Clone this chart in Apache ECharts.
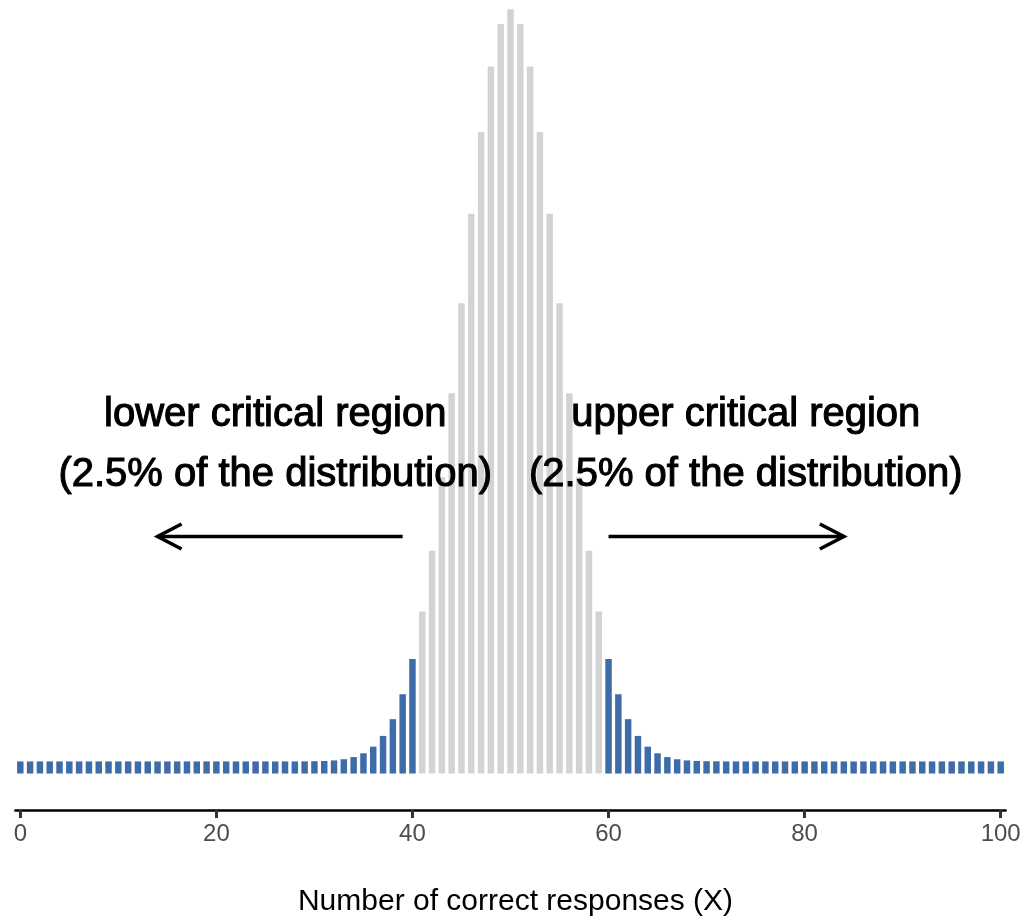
<!DOCTYPE html>
<html>
<head>
<meta charset="utf-8">
<script src="https://cdn.jsdelivr.net/npm/echarts@6/dist/echarts.min.js"></script>
<style>html,body{margin:0;padding:0;background:#fff}#c{width:1024px;height:922px}</style>
</head>
<body>
<div id="c"></div>
<script>
// Number of correct responses X = 0..100
const xValues = [
  0,1,2,3,4,5,6,7,8,9,10,11,12,13,14,15,16,17,18,19,20,
  21,22,23,24,25,26,27,28,29,30,31,32,33,34,35,36,37,38,39,40,
  41,42,43,44,45,46,47,48,49,50,51,52,53,54,55,56,57,58,59,60,
  61,62,63,64,65,66,67,68,69,70,71,72,73,74,75,76,77,78,79,80,
  81,82,83,84,85,86,87,88,89,90,91,92,93,94,95,96,97,98,99,100
];
// Probability of each X
const probabilities = [
  0,0,0,0,0,0,0,0,0,0,
  0,0,0,0,0,0,0,0,0,0,
  0,0,0,0,0,0,0,0,0,0.00001,
  0.00002,0.00005,0.00011,0.00023,0.00046,0.00086,0.00156,0.00270,0.00447,0.00711,
  0.01084,0.01587,0.02229,0.03007,0.03895,0.04847,0.05796,0.06659,0.07353,0.07803,
  0.07959,
  0.07803,0.07353,0.06659,0.05796,0.04847,0.03895,0.03007,0.02229,0.01587,0.01084,
  0.00711,0.00447,0.00270,0.00156,0.00086,0.00046,0.00023,0.00011,0.00005,0.00002,
  0.00001,0,0,0,0,0,0,0,0,0,
  0,0,0,0,0,0,0,0,0,0,
  0,0,0,0,0,0,0,0,0,0
];
const lowerCritical = 40;
const upperCritical = 60;
const xTicks = [0, 20, 40, 60, 80, 100];
const annotationX = [26, 74];
const annotationY = [0.0335, 0.0335];
const annotationText = [
  'lower critical region\n(2.5% of the distribution)',
  'upper critical region\n(2.5% of the distribution)'
];
const arrowFrom = [39, 60];
const arrowTo = [14, 84];
const arrowY = [0.0238, 0.0238];
const xAxisTitle = 'Number of correct responses (X)';

// styles
const BLUE = '#3D6CA9';
const GREY = '#D3D3D3';
const FONT = '"Liberation Sans", Arial, Helvetica, sans-serif';
const HALF_W = 0.33;
const BAR_BASE = -0.00128;

const barData = xValues.map((x, i) => [x, probabilities[i]]);
const textData = annotationX.map((x, i) => [x, annotationY[i], i]);
const arrowData = arrowFrom.map((x, i) => [x, arrowY[i], arrowTo[i]]);

const chart = echarts.init(document.getElementById('c'), null, {renderer: 'canvas'});
chart.setOption({
  animation: false,
  backgroundColor: '#ffffff',
  grid: {left: 15.4, right: 18.4, top: 0, bottom: 110, containLabel: false},
  xAxis: {
    type: 'value', min: -0.5, max: 100.5,
    name: xAxisTitle, nameLocation: 'middle', nameGap: 77,
    nameTextStyle: {fontSize: 30, color: '#000', fontFamily: FONT, padding: [0, 0, 0, 10]},
    axisLine: {show: true, onZero: false, lineStyle: {color: '#000', width: 2.5}},
    axisTick: {show: true, length: 8, customValues: xTicks, lineStyle: {color: '#333', width: 3}},
    axisLabel: {show: true, customValues: xTicks, fontSize: 24, color: '#4D4D4D', fontFamily: FONT, margin: 12},
    splitLine: {show: false}
  },
  yAxis: {
    type: 'value', min: -0.00514, max: 0.08057, show: false,
    splitLine: {show: false}
  },
  series: [
    {
      type: 'custom',
      data: barData,
      clip: false,
      renderItem: function (params, api) {
        const x = api.value(0), p = api.value(1);
        const tl = api.coord([x - HALF_W, p]);
        const br = api.coord([x + HALF_W, BAR_BASE]);
        const critical = x <= lowerCritical || x >= upperCritical;
        return {
          type: 'rect',
          shape: {x: tl[0], y: tl[1], width: br[0] - tl[0], height: br[1] - tl[1]},
          style: {fill: critical ? BLUE : GREY}
        };
      }
    },
    {
      type: 'custom',
      data: arrowData,
      clip: false,
      z: 5,
      renderItem: function (params, api) {
        const a = api.coord([api.value(0), api.value(1)]);
        const b = api.coord([api.value(2), api.value(1)]);
        const dir = b[0] > a[0] ? 1 : -1;
        const hx = 24, hy = 12.5;
        const st = {stroke: '#000', lineWidth: 3.6, lineCap: 'butt'};
        return {
          type: 'group',
          children: [
            {type: 'line', shape: {x1: a[0], y1: a[1], x2: b[0], y2: b[1]}, style: st},
            {type: 'polyline', shape: {points: [[b[0] - dir * hx, b[1] - hy], [b[0], b[1]], [b[0] - dir * hx, b[1] + hy]]}, style: Object.assign({fill: null, lineJoin: 'miter'}, st)}
          ]
        };
      }
    },
    {
      type: 'custom',
      data: textData,
      clip: false,
      z: 6,
      renderItem: function (params, api) {
        const p = api.coord([api.value(0), api.value(1)]);
        return {
          type: 'text',
          x: p[0], y: p[1],
          style: {
            text: annotationText[api.value(2)],
            fontSize: 40, fontFamily: FONT, fill: '#000',
            stroke: '#000', lineWidth: 1.1,
            align: 'center', verticalAlign: 'middle', lineHeight: 60
          }
        };
      }
    }
  ]
});
</script>
</body>
</html>
